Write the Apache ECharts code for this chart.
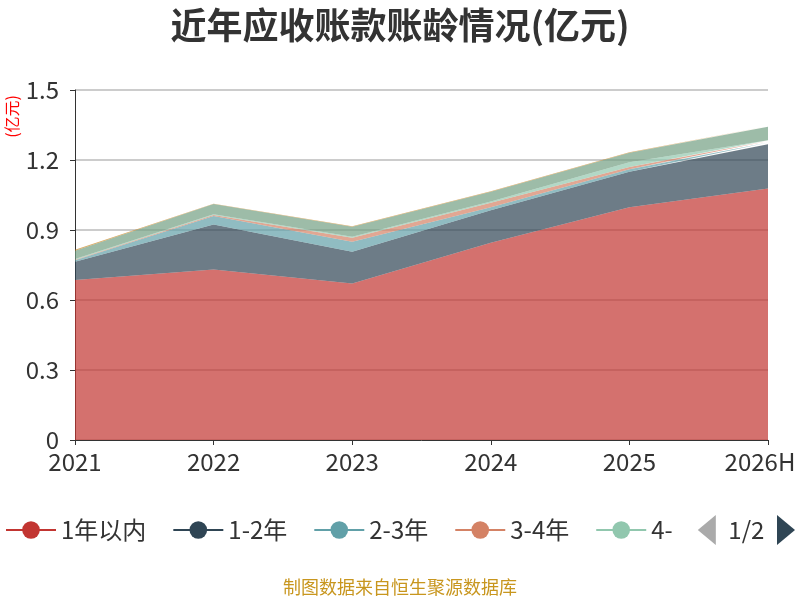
<!DOCTYPE html>
<html>
<head>
<meta charset="utf-8">
<script src="https://cdn.jsdelivr.net/npm/echarts@6/dist/echarts.min.js"></script>
<style>
html, body { margin: 0; padding: 0; background: #fff; }
#main { width: 800px; height: 600px; }
</style>
</head>
<body>
<div id="main"></div>
<script>
var years = ['2021', '2022', '2023', '2024', '2025', '2026H'];
var names = ['1年以内', '1-2年', '2-3年', '3-4年', '4-5年', '5年以上', '其他'];
var within1 = [0.686, 0.731, 0.671, 0.845, 0.997, 1.078];
var y1to2 = [0.078, 0.193, 0.136, 0.140, 0.153, 0.189];
var y2to3 = [0.006, 0.036, 0.043, 0.012, 0.010, 0.008];
var y3to4 = [0.003, 0.004, 0.017, 0.020, 0.010, 0.006];
var y4to5 = [0.003, 0.004, 0.004, 0.005, 0.020, 0.004];
var over5 = [0.035, 0.043, 0.043, 0.042, 0.041, 0.058];
var other = [0.004, 0.002, 0.002, 0.002, 0.002, 0.002];
var values = [within1, y1to2, y2to3, y3to4, y4to5, over5, other];
var colors = ['#c23531', '#2f4554', '#61a0a8', '#d48265', '#91c7ae', '#749f83', '#ca8622'];

var font = '"Noto Sans CJK SC", "Noto Sans", sans-serif';
var chart = echarts.init(document.getElementById('main'));

var series = [];
for (var i = 0; i < names.length; i++) {
    series.push({
        name: names[i],
        type: 'line',
        stack: 'total',
        symbol: 'circle',
        showSymbol: false,
        lineStyle: { width: 0 },
        areaStyle: { opacity: 0.7 },
        data: values[i]
    });
}

option = {
    animation: false,
    color: colors,
    textStyle: { fontFamily: font },
    title: {
        text: '近年应收账款账龄情况(亿元)',
        left: 'center',
        top: 2,
        textStyle: { fontSize: 36, fontWeight: 'bold', color: '#333', fontFamily: font }
    },
    legend: {
        type: 'scroll',
        bottom: 50,
        left: 0,
        right: 0,
        itemWidth: 50,
        itemHeight: 22,
        itemGap: 26,
        lineStyle: { width: 2, opacity: 1 },
        textStyle: { fontSize: 24, color: '#333' },
        pageIconColor: '#2f4554',
        pageIconInactiveColor: '#aaa',
        pageIconSize: [18, 30],
        pageButtonItemGap: 2,
        pageTextStyle: { fontSize: 24, color: '#333' },
        data: names
    },
    grid: { left: 75, right: 32, top: 90, bottom: 160, outerBoundsMode: 'none' },
    xAxis: {
        type: 'category',
        boundaryGap: false,
        data: years,
        axisLine: { lineStyle: { color: '#333' } },
        axisTick: { interval: 0, lineStyle: { color: '#333' } },
        axisLabel: {
            interval: 0,
            hideOverlap: false,
            fontSize: 24,
            color: '#333',
            margin: 10,
            formatter: function (v, idx) {
                return idx === years.length - 1 ? '{last|' + v + '}' : v;
            },
            rich: {
                last: { fontSize: 24, color: '#333', padding: [0, 16, 0, 0] }
            }
        }
    },
    yAxis: {
        type: 'value',
        min: 0,
        max: 1.5,
        interval: 0.3,
        axisLine: { show: true, lineStyle: { color: '#333' } },
        axisTick: { show: true, lineStyle: { color: '#333' } },
        axisLabel: { fontSize: 24, color: '#333', margin: 16 },
        splitLine: { lineStyle: { color: '#ccc', width: 2 } }
    },
    graphic: [{
        type: 'text',
        left: 4,
        top: 95,
        rotation: Math.PI / 2,
        style: { text: '(亿元)', fill: '#f00', fontSize: 16, fontFamily: font }
    }, {
        type: 'text',
        left: 'center',
        bottom: 4,
        style: { text: '制图数据来自恒生聚源数据库', fill: '#c8961e', fontSize: 18, fontFamily: font }
    }],
    series: series
};

chart.setOption(option);
window.addEventListener('resize', function () {
    chart.resize();
});
</script>
</body>
</html>
